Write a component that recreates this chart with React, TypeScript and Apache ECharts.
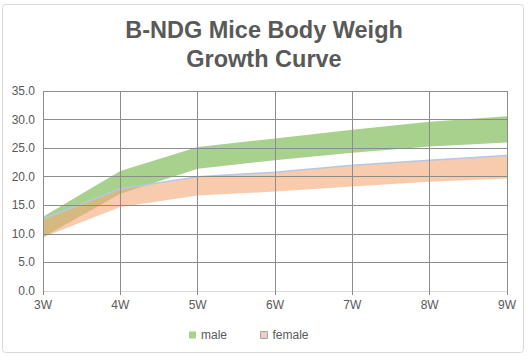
import React, { useEffect, useRef } from "react";
import * as echarts from "echarts";

const weeks = ["3W", "4W", "5W", "6W", "7W", "8W", "9W"];
const maleLower = [9.4, 17.0, 21.4, 22.9, 24.2, 25.3, 26.0];
const maleUpper = [13.0, 21.0, 25.2, 26.7, 28.2, 29.6, 30.6];
const femaleLower = [9.4, 14.7, 16.7, 17.4, 18.3, 19.1, 19.7];
const femaleUpper = [12.6, 17.9, 20.0, 20.8, 22.0, 22.9, 23.7];

const maleSpan = maleUpper.map((v, i) => +(v - maleLower[i]).toFixed(2));
const femaleSpan = femaleUpper.map((v, i) => +(v - femaleLower[i]).toFixed(2));

const FONT = "'Liberation Sans', Arial, sans-serif";
const TXT = "#595959";
const GRID = "#8c8c8c";

export default function App() {
  const ref = useRef<HTMLDivElement>(null);
  useEffect(() => {
    if (!ref.current) return;
    const chart = echarts.init(ref.current, undefined, { renderer: "svg" });
    chart.setOption({
      animation: false,
      backgroundColor: "#ffffff",
      title: {
        text: "B-NDG Mice Body Weigh\nGrowth Curve",
        left: "center",
        top: 10,
        textStyle: {
          fontFamily: FONT,
          fontWeight: "bold",
          fontSize: 23.5,
          lineHeight: 29,
          color: TXT,
        },
      },
      graphic: [
        {
          type: "rect",
          shape: { x: 2.5, y: 4.5, width: 521, height: 348, r: 3 },
          style: { fill: "none", stroke: "#d9d9d9", lineWidth: 1 },
          silent: true,
        },
      ],
      legend: {
        left: 184,
        top: 324,
        icon: "rect",
        itemWidth: 7,
        itemHeight: 7,
        itemGap: 33,
        textStyle: { fontFamily: FONT, fontSize: 12, color: TXT },
        data: [
          { name: "male", itemStyle: { color: "#a9d18e", borderWidth: 0 } },
          {
            name: "female",
            itemStyle: { color: "#f8cbad", borderColor: "#8faadc", borderWidth: 1 },
          },
        ],
      },
      grid: { left: 43, right: 21, top: 91, bottom: 65, containLabel: false },
      xAxis: {
        type: "category",
        data: weeks,
        boundaryGap: false,
        z: 5,
        axisLine: { show: true, lineStyle: { color: "#d9d9d9", width: 1 } },
        axisTick: { show: true, length: 4, lineStyle: { color: GRID } },
        axisLabel: { fontFamily: FONT, fontSize: 12, color: TXT, margin: 8 },
        splitLine: { show: true, lineStyle: { color: GRID, width: 1 } },
      },
      yAxis: {
        type: "value",
        min: 0,
        max: 35,
        interval: 5,
        z: 4,
        axisLine: { show: false },
        axisTick: { show: false },
        axisLabel: {
          fontFamily: FONT,
          fontSize: 12,
          color: TXT,
          margin: 8,
          formatter: (v: number) => v.toFixed(1),
        },
        splitLine: { show: true, lineStyle: { color: GRID, width: 1 } },
      },
      series: [
        {
          name: "maleBase",
          type: "line",
          stack: "m",
          data: maleLower,
          symbol: "none",
          lineStyle: { opacity: 0 },
          silent: true,
          z: 1,
        },
        {
          name: "male",
          type: "line",
          stack: "m",
          data: maleSpan,
          symbol: "none",
          color: "#a9d18e",
          lineStyle: { width: 0, opacity: 0 },
          areaStyle: { color: "#a9d18e", opacity: 1 },
          z: 1,
        },
        {
          name: "femaleBase",
          type: "line",
          stack: "f",
          data: femaleLower,
          symbol: "none",
          lineStyle: { opacity: 0 },
          silent: true,
          z: 2,
        },
        {
          name: "female",
          type: "line",
          stack: "f",
          data: femaleSpan,
          symbol: "none",
          color: "#f8cbad",
          lineStyle: { width: 1.5, color: "#b4c7e7" },
          areaStyle: { color: "rgba(243,168,118,0.6)", opacity: 1 },
          z: 2,
        },
      ],
    });
    return () => chart.dispose();
  }, []);
  return (
    <div
      ref={ref}
      style={{ position: "absolute", left: 0, top: 0, width: 528, height: 356 }}
    />
  );
}
